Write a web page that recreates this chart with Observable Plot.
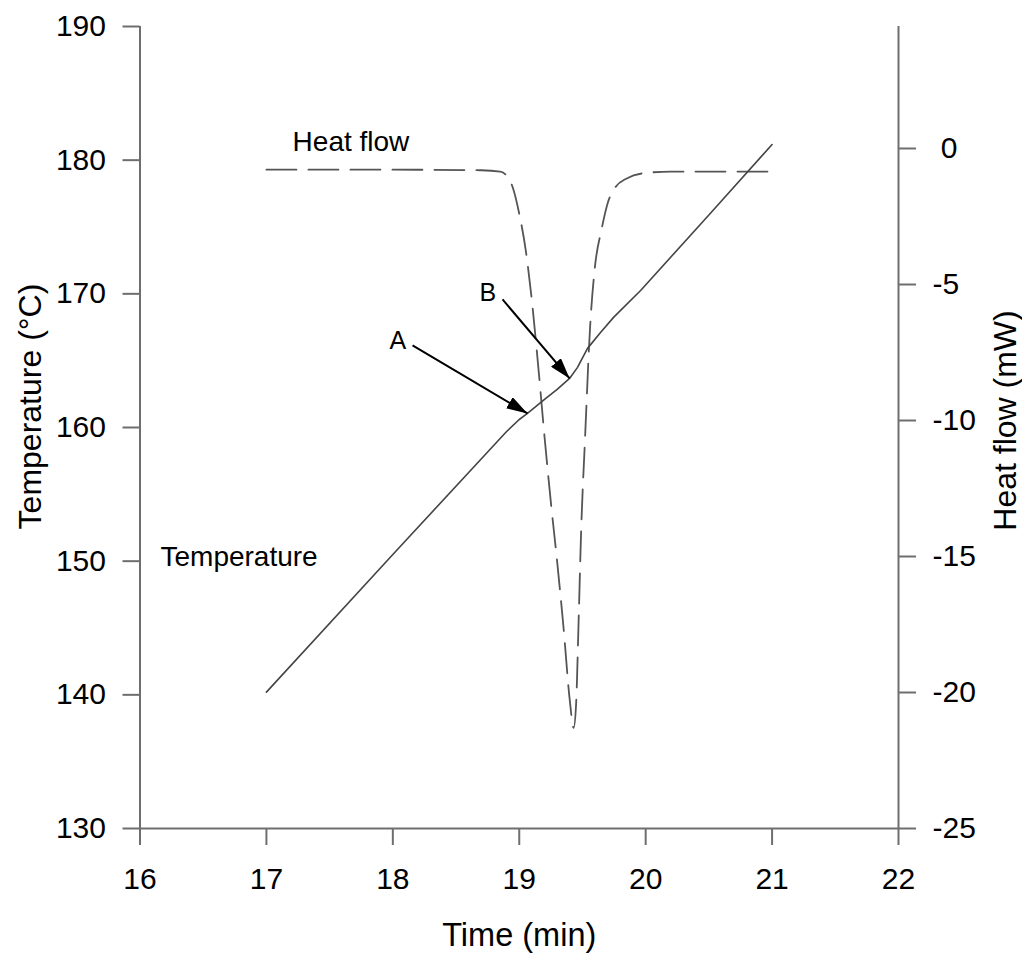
<!DOCTYPE html>
<html><head><meta charset="utf-8">
<script src="https://cdn.jsdelivr.net/npm/d3@7"></script>
<script src="https://cdn.jsdelivr.net/npm/@observablehq/plot@0.6"></script>
<style>body{margin:0;background:#fff}</style>
</head><body><div id="chart"></div>
<script>
// ---- data ----
const tempTime  = [17, 18, 18.9, 19.0, 19.065, 19.2, 19.3, 19.398, 19.461, 19.54, 19.643, 19.746, 19.96, 20.5, 21.0];
const tempValue = [140.2, 150.5, 159.7, 160.6, 161.05, 162.1, 162.85, 163.67, 164.5, 165.92, 167.11, 168.24, 170.25, 175.9, 181.17];

const hfTime  = [17, 18, 18.7, 18.85, 18.9, 18.95, 19.0, 19.05, 19.1, 19.15, 19.2, 19.25, 19.3, 19.35, 19.4, 19.43, 19.45, 19.47, 19.49, 19.52, 19.56, 19.6, 19.65, 19.7, 19.75, 19.85, 20.0, 20.2, 20.6, 21];
const hfValue = [-0.78, -0.78, -0.80, -0.85, -1.0, -1.45, -2.4, -3.7, -5.6, -8.0, -10.6, -13.0, -15.2, -17.6, -20.3, -21.3, -20.4, -17.3, -14.0, -10.7, -6.6, -4.3, -3.0, -2.0, -1.5, -1.1, -0.9, -0.85, -0.85, -0.85];

const xTicks = [16, 17, 18, 19, 20, 21, 22];
const leftTicks = [130, 140, 150, 160, 170, 180, 190];
const rightTicks = [0, -5, -10, -15, -20, -25];

const labelText = ["Heat flow", "Temperature", "A", "B"];
const labelX = [17.207, 16.162, 17.974, 18.686];
const labelY = [181.32, 150.28, 166.5, 170.03];
const labelSize = [28, 28, 25, 25];

const arrowX1 = [18.156, 18.868];
const arrowY1 = [166.14, 169.58];
const arrowX2 = [19.065, 19.398];
const arrowY2 = [161.05, 163.67];

// ---- secondary (heat flow) axis mapping onto the temperature scale ----
const HF_MIN = -25, HF_TOP = 4.485, T_MIN = 130, T_MAX = 190;
const toT = hf => T_MIN + (hf - HF_MIN) * (T_MAX - T_MIN) / (HF_TOP - HF_MIN);
const fromT = t => HF_MIN + (t - T_MIN) * (HF_TOP - HF_MIN) / (T_MAX - T_MIN);

const temp = tempTime.map((t, i) => ({t, v: tempValue[i]}));
const hf = hfTime.map((t, i) => ({t, v: toT(hfValue[i])}));
const labels = labelText.map((s, i) => ({s, x: labelX[i], y: labelY[i], size: labelSize[i]}));
const arrows = arrowX1.map((x1, i) => ({x1, y1: arrowY1[i], x2: arrowX2[i], y2: arrowY2[i]}));

const axisGray = "#6e6e6e";

const plot = Plot.plot({
  width: 1022,
  height: 955,
  marginTop: 26,
  marginBottom: 127,
  marginLeft: 139.5,
  marginRight: 124,
  style: {fontFamily: "'Liberation Sans', Arial, sans-serif", fontSize: "30px", background: "#fff", color: "#000"},
  x: {domain: [16, 22]},
  y: {domain: [T_MIN, T_MAX]},
  marks: [
    Plot.ruleX([16, 22], {stroke: axisGray, strokeWidth: 2}),
    Plot.ruleY([130], {stroke: axisGray, strokeWidth: 2}),
    Plot.axisX(xTicks, {anchor: "bottom", label: null, tickSize: 17, tickPadding: 22, stroke: axisGray, strokeWidth: 2, fill: "#000", fontSize: 30, tickFormat: d => String(d)}),
    Plot.axisY(leftTicks, {anchor: "left", label: null, tickSize: 17, tickPadding: 17, stroke: axisGray, strokeWidth: 2, fill: "#000", fontSize: 30, tickFormat: d => String(d)}),
    Plot.axisY(rightTicks.map(toT), {anchor: "right", label: null, tickSize: 17, tickPadding: 17, stroke: axisGray, strokeWidth: 2, fill: "#000", fontSize: 30,
      tickFormat: d => { const n = Math.round(fromT(d)); return n === 0 ? "\u00A00" : String(n); }}),
    Plot.line(hf, {x: "t", y: "v", stroke: "#555", strokeWidth: 1.8, strokeDasharray: "30,12", curve: "monotone-x"}),
    Plot.line(temp, {x: "t", y: "v", stroke: "#444", strokeWidth: 1.6}),
    Plot.link(arrows, {x1: "x1", y1: "y1", x2: "x2", y2: "y2", stroke: "#000", strokeWidth: 2}),
    Plot.text(labels, {x: "x", y: "y", text: "s", fontSize: "size", textAnchor: "start", lineAnchor: "middle", fill: "#000"}),
    Plot.text(["Time (min)"], {text: d => d, frameAnchor: "bottom", dy: 107, fontSize: 32.5, textAnchor: "middle", lineAnchor: "middle", fill: "#000"}),
    Plot.text(["Temperature (°C)"], {text: d => d, frameAnchor: "left", dx: -109, dy: -21, rotate: -90, fontSize: 32, textAnchor: "middle", lineAnchor: "middle", fill: "#000"}),
    Plot.text(["Heat flow (mW)"], {text: d => d, frameAnchor: "right", dx: 107, dy: -7, rotate: -90, fontSize: 32, textAnchor: "middle", lineAnchor: "middle", fill: "#000"})
  ]
});

// filled triangular arrowheads
const svg = d3.select(plot.tagName.toLowerCase() === "svg" ? plot : plot.querySelector("svg"));
const defs = svg.insert("defs", ":first-child");
defs.append("marker")
  .attr("id", "tri-head")
  .attr("viewBox", "0 0 10 10")
  .attr("refX", 10).attr("refY", 5)
  .attr("markerWidth", 21).attr("markerHeight", 13)
  .attr("markerUnits", "userSpaceOnUse")
  .attr("preserveAspectRatio", "none")
  .attr("orient", "auto")
  .append("path").attr("d", "M0,0L10,5L0,10Z").attr("fill", "#000");
svg.selectAll('g[aria-label="link"] path, g[aria-label="link"] line').attr("marker-end", "url(#tri-head)");

document.getElementById("chart").append(plot);
</script>
</body></html>
